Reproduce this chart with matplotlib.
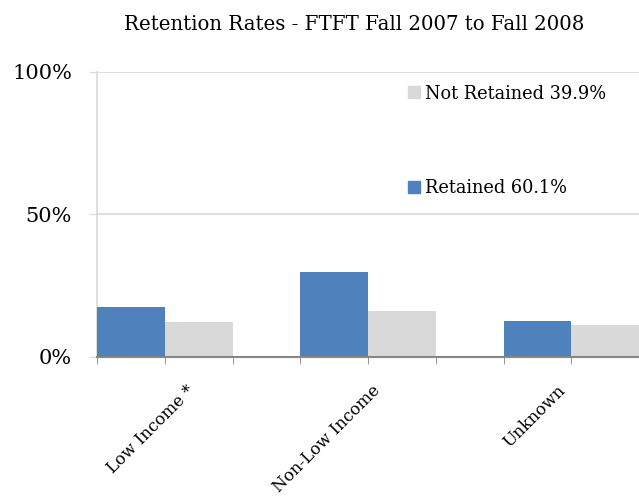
import numpy as np
import matplotlib
matplotlib.use("Agg")
import matplotlib.pyplot as plt
import matplotlib.patches as mpatches

plt.rcParams['font.family'] = ['DejaVu Serif']

# data (share of the whole cohort, %)
categories = ['Low Income *', 'Non-Low Income', 'Unknown']
retained = [17.5, 30.0, 12.6]
not_retained = [12.4, 16.1, 11.4]
retained_total = '60.1%'
not_retained_total = '39.9%'

BLUE = '#4F81BD'
GRAY = '#D9D9D9'

fig = plt.figure(figsize=(6.39, 5.04), dpi=100)
ax = fig.add_axes([97 / 639, 147 / 504, 1 - 97 / 639, 285 / 504])

# each group uses three slots: retained, not retained, empty gap
x = np.arange(len(categories)) * 3
ax.bar(x, retained, width=1, align='edge', color=BLUE, zorder=3)
ax.bar(x + 1, not_retained, width=1, align='edge', color=GRAY, zorder=3)

ax.set_xlim(0, 7.86)
ax.set_ylim(0, 100)

ax.set_yticks([0, 50, 100])
ax.set_yticklabels(['0%', '50%', '100%'], fontsize=15)
ax.yaxis.grid(True, color='#D9D9D9', linewidth=1.2, zorder=0)
ax.tick_params(axis='y', length=6, color='#D9D9D9', pad=12)

# slot boundary ticks below the axis
ax.set_xticks(np.arange(0, 9), minor=True)
ax.tick_params(axis='x', which='minor', length=5, color='#868686', direction='out')
ax.set_xticks([1.32, 4.06, 6.78])
ax.set_xticklabels(categories, rotation=45, ha='right', rotation_mode='anchor', fontsize=12)
ax.tick_params(axis='x', which='major', length=0, pad=18)

for s in ['top', 'right']:
    ax.spines[s].set_visible(False)
ax.spines['left'].set_color('#D9D9D9')
ax.spines['left'].set_linewidth(1.2)
ax.spines['bottom'].set_color('#868686')
ax.spines['bottom'].set_linewidth(1.5)
ax.spines['bottom'].set_zorder(4)

handles = [
    mpatches.Patch(color=GRAY, label='Not Retained ' + not_retained_total),
    mpatches.Patch(color=BLUE, label='Retained ' + retained_total),
]
ax.legend(handles=handles, loc='upper left', bbox_to_anchor=(0.545, 1.012), frameon=False,
          fontsize=12.8, labelspacing=4.3, handlelength=0.65, handleheight=0.65,
          handletextpad=0.3)

fig.text(0.555, 0.951, 'Retention Rates - FTFT Fall 2007 to Fall 2008', ha='center',
         va='center', fontsize=14.2)

fig.savefig('out.png', dpi=100)
